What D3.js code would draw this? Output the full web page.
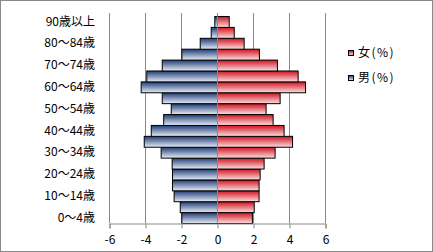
<!DOCTYPE html>
<html lang="ja">
<head>
<meta charset="UTF-8">
<script src="https://d3js.org/d3.v7.min.js"></script>
<style>
  body { margin: 0; background: #fff; }
  svg { display: block; font-family: "Noto Sans CJK JP", sans-serif; }
</style>
</head>
<body>
<svg width="433" height="252"></svg>
<script>
// 年齢階級 (下から上へ)
const ages = ["0～4歳", "5～9歳", "10～14歳", "15～19歳", "20～24歳", "25～29歳", "30～34歳",
  "35～39歳", "40～44歳", "45～49歳", "50～54歳", "55～59歳", "60～64歳", "65～69歳",
  "70～74歳", "75～79歳", "80～84歳", "85～89歳", "90歳以上"]
const male = [-1.98, -2.07, -2.41, -2.5, -2.5, -2.52, -3.13, -4.07, -3.68, -2.99, -2.57,
  -3.07, -4.24, -3.93, -3.07, -1.98, -0.96, -0.35, -0.15]
const female = [1.94, 2.04, 2.31, 2.31, 2.37, 2.59, 3.2, 4.17, 3.7, 3.09, 2.7, 3.48, 4.89,
  4.48, 3.33, 2.33, 1.48, 0.93, 0.65]
const xTicks = [-6, -4, -2, 0, 2, 4, 6]
const seriesNames = ["女(%)", "男(%)"]

const svg = d3.select("svg")
const plot = { left: 109, right: 325, top: 16, bottom: 223 }

const x = d3.scaleLinear().domain([-6, 6]).range([plot.left, plot.right])
const y = d3.scaleBand().domain(ages.slice().reverse()).range([plot.top, plot.bottom]).padding(0)

// グラデーション
const defs = svg.append("defs")
const grad = (id, dark, light) => {
  const g = defs.append("linearGradient").attr("id", id)
    .attr("x1", 0).attr("y1", 0).attr("x2", 0).attr("y2", 1)
  g.append("stop").attr("offset", "0%").attr("stop-color", dark)
  g.append("stop").attr("offset", "100%").attr("stop-color", light)
}
grad("gBlue", "#1f3c75", "#e8eef8")
grad("gRed", "#d0121f", "#fbe0e0")

// 外枠
svg.append("rect").attr("x", 0.5).attr("y", 0.5).attr("width", 432).attr("height", 251)
  .attr("fill", "#fff").attr("stroke", "#888")

// 目盛線
svg.selectAll(".grid").data(xTicks.filter(d => d !== 0)).enter().append("line")
  .attr("x1", d => x(d) + 0.5).attr("x2", d => x(d) + 0.5)
  .attr("y1", 13).attr("y2", plot.bottom)
  .attr("stroke", "#888")

// 棒
const bars = svg.append("g")
bars.selectAll(".m").data(male).enter().append("rect")
  .attr("x", d => x(d) + 0.5).attr("y", (d, i) => y(ages[i]) + 0.5)
  .attr("width", d => x(0) - x(d)).attr("height", y.bandwidth())
  .attr("fill", "url(#gBlue)").attr("stroke", "#000")
bars.selectAll(".f").data(female).enter().append("rect")
  .attr("x", x(0) + 0.5).attr("y", (d, i) => y(ages[i]) + 0.5)
  .attr("width", d => x(d) - x(0)).attr("height", y.bandwidth())
  .attr("fill", "url(#gRed)").attr("stroke", "#000")

// 0の縦軸
svg.append("line").attr("x1", x(0) + 0.5).attr("x2", x(0) + 0.5)
  .attr("y1", 13).attr("y2", plot.bottom).attr("stroke", "#888")

// 横軸
const xAxis = svg.append("g").attr("transform", `translate(0.5,${plot.bottom + 0.5})`)
  .call(d3.axisBottom(x).tickValues(xTicks).tickSize(5).tickPadding(7).tickFormat(d3.format("d")))
xAxis.select(".domain").attr("stroke", "#888")
xAxis.selectAll(".tick line").attr("stroke", "#888")
xAxis.selectAll("text").attr("font-size", 12).attr("fill", "#000")
  .attr("font-family", "'Noto Sans CJK JP', sans-serif")
xAxis.selectAll(".tick text").text(d => d < 0 ? "-" + Math.abs(d) : d)

// 年齢ラベル (1つおき)
svg.selectAll(".lab").data(ages.filter((d, i) => i % 2 === 0)).enter().append("text")
  .attr("x", 95).attr("y", d => y(d) + y.bandwidth() / 2)
  .attr("dy", "0.35em").attr("text-anchor", "end")
  .attr("font-size", 12).attr("fill", "#000").text(d => d)

// 凡例
const legend = svg.append("g")
const legendFill = ["url(#gRed)", "url(#gBlue)"]
seriesNames.forEach((name, i) => {
  const yy = 53 + i * 25
  legend.append("rect").attr("x", 348.5).attr("y", yy - 2.5).attr("width", 5).attr("height", 5)
    .attr("fill", legendFill[i]).attr("stroke", "#000")
  legend.append("text").attr("x", 358).attr("y", yy).attr("dy", "0.35em")
    .attr("font-size", 12).attr("letter-spacing", 1.5).attr("fill", "#000").text(name)
})
</script>
</body>
</html>
